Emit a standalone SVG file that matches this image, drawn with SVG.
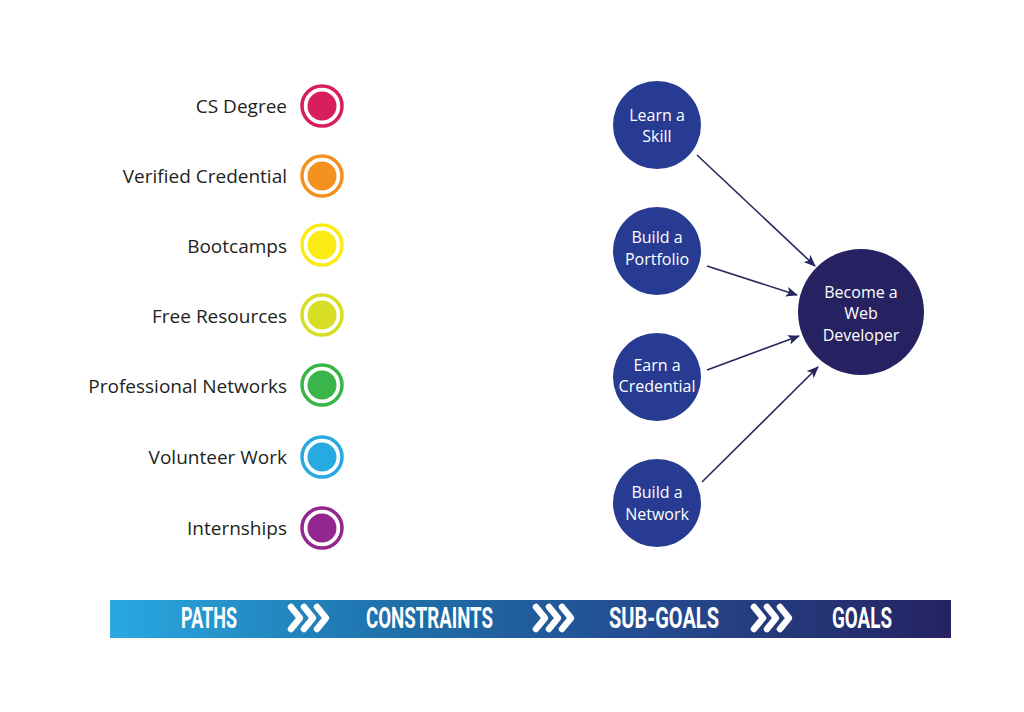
<svg xmlns="http://www.w3.org/2000/svg" width="1024" height="712" viewBox="0 0 1024 712">
<style>
.lbl{font-family:"Open Sans","Liberation Sans",sans-serif;font-size:19px;fill:#231f20;text-anchor:end}
.nt{font-family:"Open Sans","Liberation Sans",sans-serif;font-size:16px;fill:#ffffff;text-anchor:middle}
.sub{fill:#263b91}
.goal{fill:#262262}
.ring{fill:none;stroke-width:3.5}
.conn{stroke:#27265f;stroke-width:1.6;fill:none}
.bt{font-family:"Roboto","Liberation Sans",sans-serif;font-weight:bold;font-size:30px;fill:#ffffff}
.chev{fill:none;stroke:#ffffff;stroke-width:6.5;stroke-linecap:round;stroke-linejoin:round}
</style>
<defs>
<marker id="ah" viewBox="0 0 12 10" refX="11" refY="5" markerWidth="12" markerHeight="10" markerUnits="userSpaceOnUse" orient="auto">
<path d="M0,0 L12,5 L0,10 L3,5 Z" fill="#27265f"/>
</marker>
<linearGradient id="bg" x1="0" y1="0" x2="1" y2="0">
<stop offset="0" stop-color="#29a9e1"/>
<stop offset="0.35" stop-color="#1f6ea8"/>
<stop offset="0.65" stop-color="#244a8e"/>
<stop offset="1" stop-color="#262262"/>
</linearGradient>
<g id="chevs">
<polyline class="chev" points="0,0 9,11 0,22"/>
<polyline class="chev" points="13,0 22,11 13,22"/>
<polyline class="chev" points="26,0 35,11 26,22"/>
</g>
</defs>
<rect width="1024" height="712" fill="#ffffff"/>

<g id="path-cs">
<text class="lbl" x="287" y="113">CS Degree</text>
<circle class="ring" cx="322" cy="106" r="20" stroke="#d71f5e"/>
<circle cx="322" cy="106" r="14.5" fill="#d71f5e"/>
</g>
<g id="path-credential">
<text class="lbl" x="287" y="183">Verified Credential</text>
<circle class="ring" cx="322" cy="176" r="20" stroke="#f39221"/>
<circle cx="322" cy="176" r="14.5" fill="#f39221"/>
</g>
<g id="path-bootcamps">
<text class="lbl" x="287" y="253">Bootcamps</text>
<circle class="ring" cx="322" cy="245" r="20" stroke="#fbea14"/>
<circle cx="322" cy="245" r="14.5" fill="#fbea14"/>
</g>
<g id="path-free">
<text class="lbl" x="287" y="323">Free Resources</text>
<circle class="ring" cx="322" cy="315" r="20" stroke="#d7de24"/>
<circle cx="322" cy="315" r="14.5" fill="#d7de24"/>
</g>
<g id="path-networks">
<text class="lbl" x="287" y="393">Professional Networks</text>
<circle class="ring" cx="322" cy="385" r="20" stroke="#3ab54a"/>
<circle cx="322" cy="385" r="14.5" fill="#3ab54a"/>
</g>
<g id="path-volunteer">
<text class="lbl" x="287" y="464">Volunteer Work</text>
<circle class="ring" cx="322" cy="457" r="20" stroke="#27aae1"/>
<circle cx="322" cy="457" r="14.5" fill="#27aae1"/>
</g>
<g id="path-intern">
<text class="lbl" x="287" y="535">Internships</text>
<circle class="ring" cx="322" cy="528" r="20" stroke="#92278f"/>
<circle cx="322" cy="528" r="14.5" fill="#92278f"/>
</g>

<g id="connectors">
<line class="conn" x1="697" y1="155" x2="815" y2="266" marker-end="url(#ah)"/>
<line class="conn" x1="707" y1="266" x2="797" y2="295" marker-end="url(#ah)"/>
<line class="conn" x1="707" y1="370" x2="799" y2="336" marker-end="url(#ah)"/>
<line class="conn" x1="702" y1="482" x2="818" y2="367" marker-end="url(#ah)"/>
</g>

<g id="skill">
<circle class="sub" cx="657" cy="125" r="44"/>
<text class="nt" x="657" y="121">Learn a</text>
<text class="nt" x="657" y="142">Skill</text>
</g>
<g id="portfolio">
<circle class="sub" cx="657" cy="251" r="44"/>
<text class="nt" x="657" y="243">Build a</text>
<text class="nt" x="657" y="265">Portfolio</text>
</g>
<g id="earn">
<circle class="sub" cx="657" cy="377" r="44"/>
<text class="nt" x="657" y="371">Earn a</text>
<text class="nt" x="657" y="392">Credential</text>
</g>
<g id="network">
<circle class="sub" cx="657" cy="503" r="44"/>
<text class="nt" x="657" y="498">Build a</text>
<text class="nt" x="657" y="520">Network</text>
</g>
<g id="goal">
<circle class="goal" cx="861" cy="312" r="63"/>
<text class="nt" x="861" y="298">Become a</text>
<text class="nt" x="861" y="319">Web</text>
<text class="nt" x="861" y="341">Developer</text>
</g>

<g id="banner">
<rect x="110" y="600" width="841" height="38" fill="url(#bg)"/>
<text class="bt" x="181" y="628" textLength="56" lengthAdjust="spacingAndGlyphs">PATHS</text>
<text class="bt" x="366" y="628" textLength="127" lengthAdjust="spacingAndGlyphs">CONSTRAINTS</text>
<text class="bt" x="609" y="628" textLength="110" lengthAdjust="spacingAndGlyphs">SUB-GOALS</text>
<text class="bt" x="832" y="628" textLength="60" lengthAdjust="spacingAndGlyphs">GOALS</text>
<use href="#chevs" x="291" y="607"/>
<use href="#chevs" x="536" y="607"/>
<use href="#chevs" x="754" y="607"/>
</g>
</svg>
